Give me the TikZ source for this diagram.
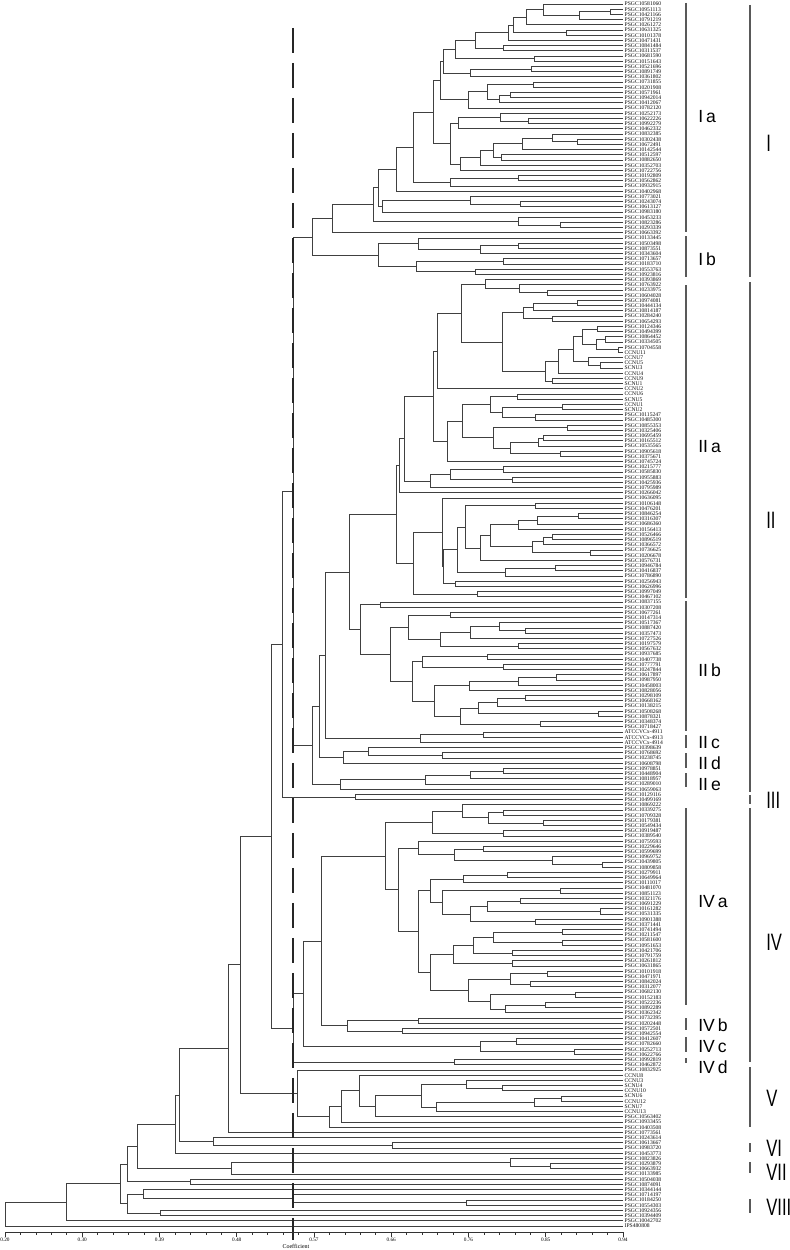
\documentclass[tikz,border=0pt]{standalone}
\usepackage{fontspec}
\usepackage{graphicx}
\setmainfont{Liberation Serif}
\newfontfamily\grpfont{Liberation Sans}
\usetikzlibrary{positioning}

% merge position (px) between neighbouring leaves, last entry closes the tree
\def\gaplist{543,610,579,526,513,566,508,475,503,455,
534,443,531,470,440,533,487,510,499,468,
433,500,528,458,450,552,577,522,493,501,
480,460,413,518,450,396,378,470,520,382,
373,518,560,332,312,418,518,480,378,503,
416,475,293,485,519,547,461,577,533,523,
552,502,597,582,605,596,618,573,588,600,
558,545,552,437,433,517,490,562,502,535,
462,567,493,543,538,510,560,447,404,503,
450,512,430,399,396,442,535,465,578,537,
518,490,552,543,532,590,480,457,555,505,
443,455,413,477,349,380,360,450,408,499,
525,470,440,518,390,487,422,503,412,556,
518,469,434,525,497,478,598,460,540,325,
483,420,319,368,442,343,312,503,470,425,
340,282,355,271,462,503,488,543,432,503,
385,418,483,454,552,602,398,507,463,430,
560,442,520,487,600,470,535,418,562,493,
562,473,512,453,512,430,547,510,530,468,
575,490,545,505,321,418,347,402,303,516,
480,574,293,454,240,297,359,466,502,421,
561,534,436,375,341,329,228,179,213,392,
175,137,510,550,231,127,190,120,143,293,
466,127,160,66,5,-1000}

% stack for building the dendrogram
\newcount\stk
\newif\ifgoon
\def\dgpush{%
  \global\advance\stk by 1
  \expandafter\xdef\csname sx\the\stk\endcsname{\dgx}%
  \expandafter\xdef\csname sy\the\stk\endcsname{\dgy}%
  \expandafter\xdef\csname sg\the\stk\endcsname{\dgg}}
\def\dgmerge{%
  \edef\tpx{\csname sx\the\stk\endcsname}%
  \edef\tpy{\csname sy\the\stk\endcsname}%
  \edef\tpg{\csname sg\the\stk\endcsname}%
  \draw[branch] (\tpx,\tpy) -- (\tpg,\tpy) -- (\tpg,\dgy) -- (\dgx,\dgy);
  \pgfmathsetmacro\newy{(\tpy+\dgy)/2}%
  \xdef\dgx{\tpg}\xdef\dgy{\newy}%
  \global\advance\stk by -1 }
\def\dgloop{%
  \goonfalse
  \ifnum\stk>0
    \ifnum\csname sg\the\stk\endcsname<\dgg\relax\else\goontrue\fi
  \fi
  \ifgoon\dgmerge\expandafter\dgloop\fi}

% leaf names that differ from the PSGC pattern
\def\deflbl#1#2{\expandafter\def\csname lbl#1\endcsname{#2}}
\deflbl{68}{CCNU11}\deflbl{69}{CCNU7}\deflbl{70}{CCNU5}\deflbl{71}{SCNU3}
\deflbl{72}{CCNU4}\deflbl{73}{CCNU9}\deflbl{74}{SCNU1}\deflbl{75}{CCNU2}
\deflbl{76}{CCNU6}\deflbl{77}{SCNU5}\deflbl{78}{CCNU1}\deflbl{79}{SCNU2}
\deflbl{141}{ATCCVCx-4911}\deflbl{142}{ATCCVCx-4913}\deflbl{143}{ATCCVCx-4914}
\deflbl{207}{CCNU8}\deflbl{208}{CCNU3}\deflbl{209}{SCNU4}\deflbl{210}{CCNU10}
\deflbl{211}{SCNU6}\deflbl{212}{CCNU12}\deflbl{213}{SCNU7}\deflbl{214}{CCNU13}
\deflbl{235}{PSGC10042702}\deflbl{236}{IPS480808}

\newcommand{\grp}[1]{\scalebox{0.7}[1]{#1}}

\begin{document}
\begin{tikzpicture}[x=0.02cm, y=-0.02cm,
    branch/.style={draw=black!75, line width=0.45pt},
    leaf/.style={anchor=west, inner sep=0.2pt, font=\fontsize{3.2}{3.2}\selectfont, text=black!95},
    cutline/.style={draw=black!85, line width=1pt, dash pattern=on 0.5cm off 0.2cm},
    axisline/.style={draw=black!80, line width=0.4pt},
    ticklabel/.style={font=\fontsize{3}{3}\selectfont, inner sep=0.6pt},
    subbar/.style={draw=black!65, line width=0.7pt},
    grpbar/.style={draw=black!65, line width=0.9pt},
    sublabel/.style={anchor=west, inner sep=0pt, font=\grpfont\fontsize{10}{10}\selectfont},
    grplabel/.style={anchor=west, inner sep=0pt, font=\grpfont\fontsize{13.5}{13.5}\selectfont}
]
\useasboundingbox (0,0) rectangle (789,1250);

% Tree branches
\foreach \g [count=\i] in \gaplist {
  \pgfmathsetmacro\ly{4+5.2*(\i-1)}
  \xdef\dgx{623}\xdef\dgy{\ly}\xdef\dgg{\g}
  \dgloop
  \dgpush
}

% Leaf labels
\foreach \i in {1,...,236} {
  \pgfmathsetmacro\ly{4+5.2*(\i-1)}
  \pgfmathtruncatemacro\lca{mod(37*\i+11,90)+10}
  \pgfmathtruncatemacro\lcb{mod(53*\i+7,9000)+1000}
  \node[leaf] (leaf\i) at (624,\ly) {\ifcsname lbl\i\endcsname\csname lbl\i\endcsname\else PSGC10\lca\lcb\fi};
}

% Cut-off line
\draw[cutline] (293,28) -- (293,1240);

% Coefficient axis
\draw[axisline] (5,1232) -- (623,1232);
\foreach \k in {0,...,40}
  \draw[axisline] ({5+15.45*\k},1232) -- ++(0,2.5);
\foreach \lab [count=\k from 0] in {0.20,0.30,0.39,0.48,0.57,0.66,0.76,0.85,0.94}
  \draw[axisline] ({5+77.25*\k},1232) -- ++(0,4.5) node[ticklabel, below] (tick\k) {\lab};
\node[ticklabel, font=\fontsize{3.4}{3.4}\selectfont] (coef) at (296,1246) {Coefficient};

% Subgroups
\foreach \ya/\yb/\ym/\txt [count=\k] in {3/232/117/I\,a, 236/277/259/I\,b,
    285/598/447/II\,a, 601/731/670/II\,b, 735/748/743/II\,c, 753/768/763/II\,d,
    773/787/785/II\,e, 808/1005/902/IV\,a, 1018/1030/1025/IV\,b,
    1037/1052/1047/IV\,c, 1058/1063/1067/IV\,d} {
  \draw[subbar] (686,\ya) -- (686,\yb);
  \node[sublabel] (sub\k) at (698,\ym) {\txt};
}

% Groups
\foreach \ya/\yb/\ym/\txt [count=\k] in {5/277/143/I, 282/792/520/II,
    795/804/800/III, 808/1062/942/IV, 1067/1127/1098/V, 1143/1152/1148/VI,
    1162/1173/1172/VII, 1199/1213/1207/VIII} {
  \draw[grpbar] (750,\ya) -- (750,\yb);
  \node[grplabel] (grp\k) at (766,\ym) {\grp{\txt}};
}

\end{tikzpicture}
\end{document}
